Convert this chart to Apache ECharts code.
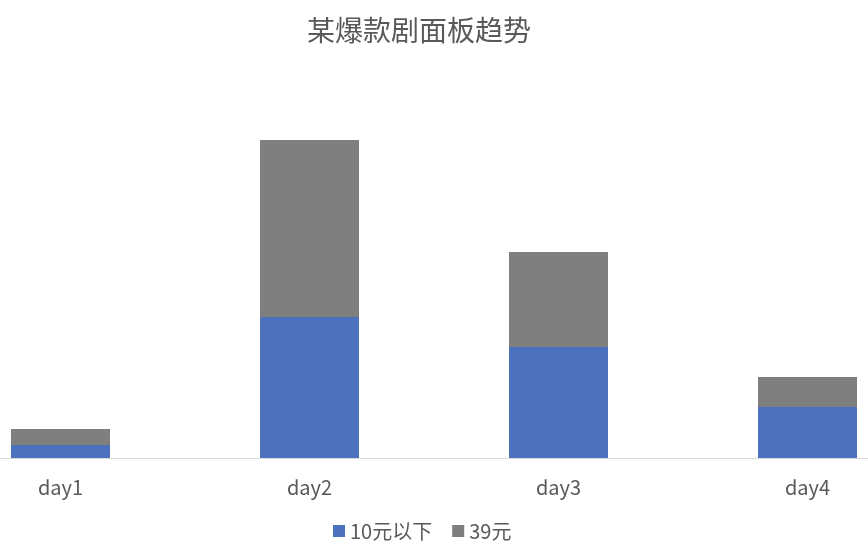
<!DOCTYPE html>
<html>
<head>
<meta charset="utf-8">
<script src="https://cdn.jsdelivr.net/npm/echarts@6/dist/echarts.min.js"></script>
<style>html,body{margin:0;padding:0;background:#fff;overflow:hidden;width:868px;height:550px}#c{position:absolute;left:-64px;top:0;width:996px;height:550px}</style>
</head>
<body>
<div id="c"></div>
<script>
var categories = ['day1', 'day2', 'day3', 'day4'];
var below10 = [13, 141, 111, 51];
var yuan39 = [16, 177, 95, 30];
var seriesNames = ['10元以下', '39元'];
var titleText = '某爆款剧面板趋势';

var font = '"Noto Sans CJK SC", "Noto Sans", sans-serif';
var chart = echarts.init(document.getElementById('c'), null, {renderer: 'canvas'});
chart.setOption({
  backgroundColor: '#ffffff',
  animation: false,
  title: {
    text: titleText,
    left: 366, top: 11,
    textStyle: {fontFamily: font, fontSize: 28, fontWeight: 'normal', color: '#595959'}
  },
  legend: {
    data: seriesNames,
    left: 392, top: 516,
    icon: 'rect',
    itemWidth: 12, itemHeight: 12, itemGap: 20,
    textStyle: {fontFamily: font, fontSize: 20, color: '#595959'}
  },
  grid: {left: 0, right: 0, top: 58, bottom: 92, containLabel: false},
  xAxis: {
    type: 'category',
    data: categories,
    axisTick: {show: false},
    axisLine: {lineStyle: {color: '#d9d9d9', width: 1}},
    axisLabel: {fontFamily: font, fontSize: 20, color: '#595959', margin: 19}
  },
  yAxis: {type: 'value', min: 0, max: 400, show: false, splitLine: {show: false}},
  series: [
    {name: seriesNames[0], type: 'bar', stack: 'a', data: below10, barWidth: 99, itemStyle: {color: '#4e71be'}},
    {name: seriesNames[1], type: 'bar', stack: 'a', data: yuan39, barWidth: 99, itemStyle: {color: '#7f7f7f'}}
  ]
});
</script>
</body>
</html>
